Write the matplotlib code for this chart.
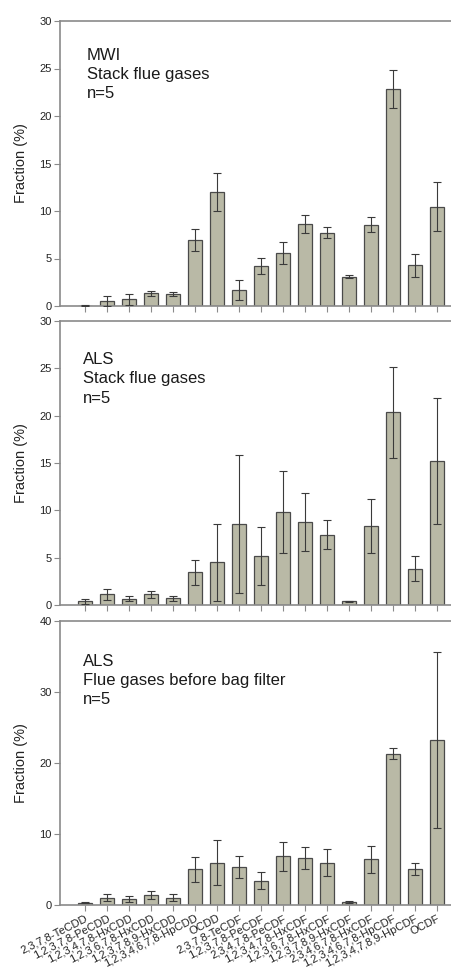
import matplotlib
matplotlib.use("Agg")
import matplotlib.pyplot as plt
import numpy as np

plt.rcParams['font.family'] = ['Liberation Sans', 'DejaVu Sans']

congeners = ["2,3,7,8-TeCDD", "1,2,3,7,8-PeCDD", "1,2,3,4,7,8-HxCDD", "1,2,3,6,7,8-HxCDD",
             "1,2,3,7,8,9-HxCDD", "1,2,3,4,6,7,8-HpCDD", "OCDD", "2,3,7,8-TeCDF",
             "1,2,3,7,8-PeCDF", "2,3,4,7,8-PeCDF", "1,2,3,4,7,8-HxCDF", "1,2,3,6,7,8-HxCDF",
             "1,2,3,7,8,9-HxCDF", "2,3,4,6,7,8-HxCDF", "1,2,3,4,6,7,8-HpCDF",
             "1,2,3,4,7,8,9-HpCDF", "OCDF"]

mwi_stack = [0.05, 0.55, 0.7, 1.33, 1.3, 6.98, 11.96, 1.68, 4.21, 5.58, 8.67, 7.72, 3.09, 8.56, 22.88, 4.28, 10.46]
mwi_stack_err = [0.03, 0.5, 0.55, 0.25, 0.2, 1.15, 2.0, 1.1, 0.8, 1.2, 0.95, 0.6, 0.17, 0.8, 2.0, 1.2, 2.6]

als_stack = [0.39, 1.13, 0.67, 1.13, 0.7, 3.45, 4.5, 8.52, 5.21, 9.82, 8.77, 7.43, 0.39, 8.31, 20.35, 3.84, 15.21]
als_stack_err = [0.25, 0.6, 0.3, 0.4, 0.3, 1.35, 4.1, 7.3, 3.05, 4.35, 3.05, 1.5, 0.05, 2.85, 4.8, 1.35, 6.7]

als_before = [0.33, 1.03, 0.85, 1.41, 1.03, 5.02, 5.96, 5.35, 3.43, 6.85, 6.62, 5.96, 0.47, 6.43, 21.31, 5.02, 23.19]
als_before_err = [0.1, 0.45, 0.4, 0.55, 0.5, 1.8, 3.2, 1.55, 1.2, 2.0, 1.6, 1.9, 0.15, 1.9, 0.75, 0.85, 12.4]

panels = [
    ("MWI\nStack flue gases\nn=5", mwi_stack, mwi_stack_err, 30, 5, 0.905, 0.067),
    ("ALS\nStack flue gases\nn=5", als_stack, als_stack_err, 30, 5, 0.89, 0.057),
    ("ALS\nFlue gases before bag filter\nn=5", als_before, als_before_err, 40, 10, 0.885, 0.057),
]

W, H = 451, 968
fig = plt.figure(figsize=(W / 100, H / 100), dpi=100)

boxes = [(21, 306), (321, 605), (621, 905)]
left_px, right_px = 60, 462

bar_color = "#b9b9a6"
edge_color = "#4a4a4a"
spine_color = "#8a8a8a"

x = np.arange(len(congeners))
for i, ((txt, vals, errs, ymax, ystep, ty, tx), (top, bot)) in enumerate(zip(panels, boxes)):
    ax = fig.add_axes([left_px / W, 1 - bot / H, (right_px - left_px) / W, (bot - top) / H])
    ax.bar(x, vals, width=0.6, color=bar_color, edgecolor=edge_color, linewidth=0.9, zorder=2)
    ax.errorbar(x, vals, yerr=errs, fmt='none', ecolor="#3a3a3a", elinewidth=0.8,
                capsize=3, capthick=0.8, zorder=3)
    ax.set_xlim(-1.14, len(congeners) - 1 + 1.14)
    ax.set_ylim(0, ymax)
    ax.set_yticks(np.arange(0, ymax + 1, ystep))
    ax.set_xticks(x)
    if i == 2:
        ax.set_xticklabels(congeners, rotation=27, ha='right', va='top',
                           rotation_mode='anchor', fontsize=8, color="#222222")
    else:
        ax.set_xticklabels([])
    ax.tick_params(axis='y', direction='out', length=4, width=0.8, colors=spine_color,
                   labelcolor="#222222", labelsize=8, pad=2)
    ax.tick_params(axis='x', direction='out', length=4, width=0.8, colors=spine_color,
                   labelcolor="#222222", pad=2)
    for s in ax.spines.values():
        s.set_color(spine_color)
        s.set_linewidth(1.2)
    ax.set_ylabel("Fraction (%)", fontsize=10.5, color="#222222", labelpad=8)
    ax.text(tx, ty, txt, transform=ax.transAxes, ha='left', va='top', fontsize=12,
            linespacing=1.35, color="#1a1a1a")

fig.savefig("out.png", dpi=100)
